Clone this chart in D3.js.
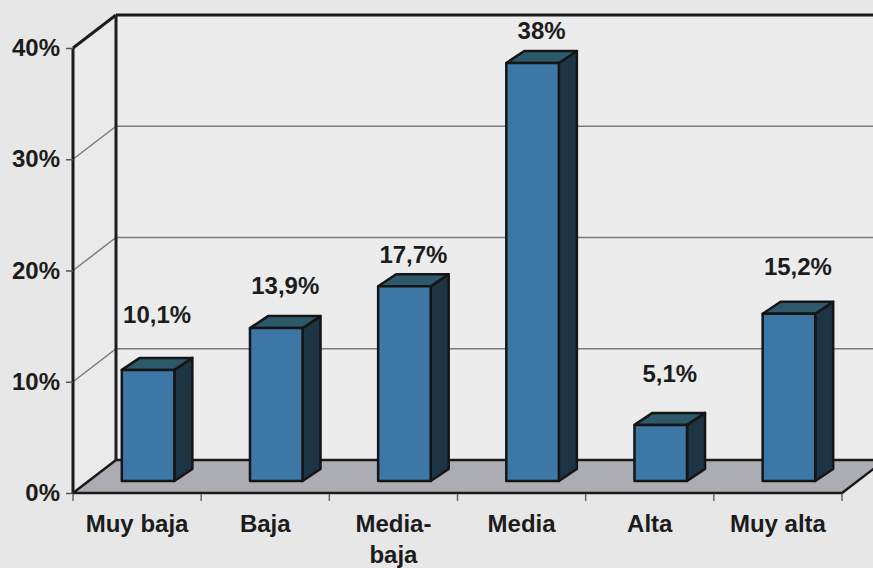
<!DOCTYPE html>
<html>
<head>
<meta charset="utf-8">
<script src="https://cdn.jsdelivr.net/npm/d3@7"></script>
<style>
  html, body { margin: 0; padding: 0; background: #e7e7e7; }
  svg { display: block; }
  text { font-family: "Liberation Sans", Arial, sans-serif; font-weight: bold; fill: #1c1c1c; }
</style>
</head>
<body>
<svg id="chart" width="873" height="568"></svg>
<script>
// ---- data ----
const categories = ["Muy baja", "Baja", "Media-baja", "Media", "Alta", "Muy alta"];
const categoryLines = [["Muy baja"], ["Baja"], ["Media-", "baja"], ["Media"], ["Alta"], ["Muy alta"]];
const values = [10.1, 13.9, 17.7, 38, 5.1, 15.2];
const valueLabels = ["10,1%", "13,9%", "17,7%", "38%", "5,1%", "15,2%"];
const yTicks = [0, 10, 20, 30, 40];
const yTickLabels = ["0%", "10%", "20%", "30%", "40%"];

// ---- layout ----
const W = 873, H = 568;
const x0 = 73, x1 = 842;          // front floor edge
const yBase = 493, yTopV = 48;    // front axis 0% and 40%
const DX = 43, DY = -33;          // wall depth
const barDX = 18, barDY = -12;    // bar depth
const barBase = 481;              // front face bottom of bars
const barSpan = 440;              // 0..40% height of bar scale
const labelLift = [35, 22, 11, 12, 31, 27];

const svg = d3.select("#chart");

const yFront = d3.scaleLinear().domain([0, 40]).range([yBase, yTopV]);
const yBar = d3.scaleLinear().domain([0, 40]).range([barBase, barBase - barSpan]);
const xCat = d3.scaleBand().domain(categories).range([x0, x1]);
const xBar = d3.scaleBand().domain(categories).range([x0 + 11, x1 + 11])
  .paddingInner(0.59).paddingOuter(0.295);

// back wall + side wall
svg.append("rect").attr("x", 0).attr("y", 0).attr("width", W).attr("height", H).attr("fill", "#e7e7e7");
svg.append("polygon")
  .attr("points", [[x0 + DX, yTopV + DY], [W + 5, yTopV + DY], [W + 5, yBase + DY], [x0 + DX, yBase + DY]].join(" "))
  .attr("fill", "#ececec");
svg.append("polygon")
  .attr("points", [[x0, yTopV], [x0 + DX, yTopV + DY], [x0 + DX, yBase + DY], [x0, yBase]].join(" "))
  .attr("fill", "#eaeaea");

// gridlines (back wall + side wall)
const grid = svg.append("g");
yTicks.filter(t => t > 0 && t < 40).forEach(t => {
  const yf = yFront(t);
  grid.append("line").attr("x1", x0).attr("y1", yf).attr("x2", x0 + DX).attr("y2", yf + DY)
    .attr("stroke", "#7a7a7a").attr("stroke-width", 1.5);
  grid.append("line").attr("x1", x0 + DX).attr("y1", yf + DY).attr("x2", W).attr("y2", yf + DY)
    .attr("stroke", "#7a7a7a").attr("stroke-width", 1.5);
});

// floor
svg.append("polygon")
  .attr("points", [[x0, yBase], [x1, yBase], [x1 + DX, yBase + DY], [x0 + DX, yBase + DY]].join(" "))
  .attr("fill", "#acacb3").attr("stroke", "#1a1a1a").attr("stroke-width", 2.5).attr("stroke-linejoin", "round");

// wall frame lines
const frame = svg.append("g").attr("stroke", "#1c1c1c").attr("stroke-width", 3).attr("fill", "none");
frame.append("line").attr("x1", x0 + DX).attr("y1", yTopV + DY).attr("x2", x0 + DX).attr("y2", yBase + DY);
frame.append("line").attr("x1", x0 + DX).attr("y1", yTopV + DY).attr("x2", W).attr("y2", yTopV + DY);
frame.append("line").attr("x1", x0).attr("y1", yTopV).attr("x2", x0 + DX).attr("y2", yTopV + DY);
frame.append("line").attr("x1", x0).attr("y1", yTopV).attr("x2", x0).attr("y2", yBase);

// bars
const bars = svg.append("g");
categories.forEach((c, i) => {
  const xl = xBar(c), xr = xl + xBar.bandwidth();
  const yt = yBar(values[i]);
  const g = bars.append("g").attr("stroke", "#151515").attr("stroke-width", 2.5).attr("stroke-linejoin", "round");
  g.append("polygon")
    .attr("points", [[xr, yt], [xr + barDX, yt + barDY], [xr + barDX, barBase + barDY], [xr, barBase]].join(" "))
    .attr("fill", "#1d3443");
  g.append("polygon")
    .attr("points", [[xl, yt], [xl + barDX, yt + barDY], [xr + barDX, yt + barDY], [xr, yt]].join(" "))
    .attr("fill", "#2c5a6b");
  g.append("rect").attr("x", xl).attr("y", yt).attr("width", xr - xl).attr("height", barBase - yt)
    .attr("fill", "#3c77a6");
  // value label
  svg.append("text")
    .attr("x", (xl + xr + barDX) / 2)
    .attr("y", yt + barDY - labelLift[i])
    .attr("text-anchor", "middle").attr("font-size", 24)
    .text(valueLabels[i]);
});

// y axis ticks + labels
const yAxis = d3.axisLeft(yFront).tickValues(yTicks).tickFormat((d, i) => yTickLabels[i]).tickSize(7).tickPadding(6);
const ya = svg.append("g").attr("transform", `translate(${x0},0)`).call(yAxis);
ya.select(".domain").remove();
ya.selectAll(".tick line").attr("stroke", "#555").attr("stroke-width", 1.5);
ya.selectAll(".tick text").attr("font-size", 24).attr("font-family", "Liberation Sans, Arial, sans-serif")
  .attr("font-weight", "bold").attr("fill", "#1c1c1c");

// category boundary ticks
const bounds = categories.map(c => xCat(c)).concat([xCat(categories[categories.length - 1]) + xCat.bandwidth()]);
svg.append("g").selectAll("line").data(bounds).join("line")
  .attr("x1", d => d).attr("x2", d => d).attr("y1", yBase + 1).attr("y2", yBase + 8)
  .attr("stroke", "#666").attr("stroke-width", 1.5);

// category labels
categories.forEach((c, i) => {
  const t = svg.append("text").attr("x", xCat(c) + xCat.bandwidth() / 2).attr("y", 532)
    .attr("text-anchor", "middle").attr("font-size", 24);
  categoryLines[i].forEach((ln, j) => {
    t.append("tspan").attr("x", xCat(c) + xCat.bandwidth() / 2).attr("dy", j === 0 ? 0 : 31).text(ln);
  });
});
</script>
</body>
</html>
